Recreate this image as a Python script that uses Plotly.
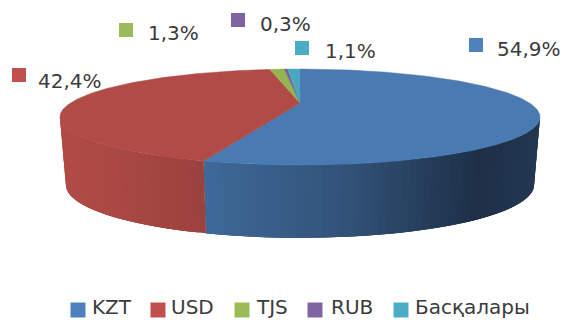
import numpy as np
import plotly.graph_objects as go

categories = ["KZT", "USD", "TJS", "RUB", "Басқалары"]
values = [54.9, 42.4, 1.3, 0.3, 1.1]
top_colors = ["#4A7AB2", "#B04B47", "#94B44F", "#7B5F9C", "#4AA7BF"]
key_colors = ["#4F81BD", "#C0504D", "#9BBB59", "#8064A2", "#4BACC6"]
label_anchor_x = [476, 19, 126, 238, 302]
label_anchor_y = [45, 75, 30, 20, 48]
label_text_x = [497, 38, 148, 260, 325]
label_text_y = [49, 81, 33, 24, 51]
legend_key_x = [78, 158, 242, 315, 401]
legend_text_x = [93, 172, 257, 332, 416]
LEGEND_KEY_Y = 310
LEGEND_TEXT_Y = 307

# perspective geometry of the disc
CX, CY, R, RY, K = 300.0, 103.0, 229.6, 43.9, 0.292
BOTTOM_CY, BOTTOM_SX, BOTTOM_SY = 169.6, 0.975, 1.1
TEXT = "#3B3B3B"
FONT = "DejaVu Sans"

# side shading: (x pixel -> rgb)
side_x = {
    0: ([207, 350, 480, 540], [(62, 105, 152), (50, 82, 120), (30, 48, 72), (36, 56, 82)]),
    1: ([60, 207], [(178, 76, 72), (155, 66, 62)]),
}


def project(deg, cy=CY, sx=1.0, sy=1.0):
    a = np.radians(deg)
    u, v = np.sin(a), -np.cos(a)
    d = 1 - K * v
    return CX + sx * R * u / d, cy + sy * RY * v / d


def shade(i, x):
    xs, cols = side_x[i]
    return "rgb(%d,%d,%d)" % tuple(np.interp(x, xs, [c[j] for c in cols]) for j in range(3))


fracs = np.cumsum([0] + values) / sum(values) * 360
tangent_r = np.degrees(np.arccos(-K))
tangent_l = 360 - tangent_r

fig = go.Figure()


def poly(xs, ys, color, width=0):
    fig.add_trace(go.Scatter(x=xs, y=ys, mode="lines", fill="toself", fillcolor=color,
                             line=dict(color=color, width=width), hoverinfo="skip",
                             showlegend=False))


# sides: each strip runs on under the next one, so no seam shows between them
for i, lo, hi in [(0, tangent_r, fracs[1]), (1, fracs[1], tangent_l)]:
    edges = np.append(np.arange(lo, hi, 1.5), hi)
    for a0, a1 in zip(edges[:-1], edges[1:]):
        arc = np.linspace(a0, min(a1 + 3, hi), 6)
        tx, ty = project(arc)
        bx, by = project(arc[::-1], BOTTOM_CY, BOTTOM_SX, BOTTOM_SY)
        mid = project((a0 + a1) / 2)[0]
        poly(np.r_[tx, bx, tx[0]], np.r_[ty, by, ty[0]], shade(i, mid))

# top face
for i in range(len(values)):
    arc = np.linspace(fracs[i], fracs[i + 1], max(3, int(values[i] * 5)))
    ax, ay = project(arc)
    poly(np.r_[CX, ax, CX], np.r_[CY, ay, CY], top_colors[i], 0.5)

# data-label keys
fig.add_trace(go.Scatter(x=label_anchor_x, y=label_anchor_y, mode="markers",
                         marker=dict(symbol="square", size=14, color=key_colors),
                         hoverinfo="skip", showlegend=False))

# legend keys
fig.add_trace(go.Scatter(x=legend_key_x, y=[LEGEND_KEY_Y] * len(categories), mode="markers",
                         marker=dict(symbol="square", size=15, color=key_colors),
                         hoverinfo="skip", showlegend=False))

annotations = [
    dict(x=x, y=y, text=f"{v:.1f}".replace(".", ",") + "%", showarrow=False,
         xanchor="left", yanchor="middle", xshift=-2,
         font=dict(family=FONT, size=20, color=TEXT))
    for x, y, v in zip(label_text_x, label_text_y, values)
] + [
    dict(x=x, y=LEGEND_TEXT_Y, text=name, showarrow=False, xanchor="left", yanchor="middle",
         xshift=-2, borderpad=0, font=dict(family=FONT, size=20, color=TEXT))
    for x, name in zip(legend_text_x, categories)
]

fig.update_layout(
    width=566, height=320, margin=dict(l=0, r=0, t=0, b=0, autoexpand=False),
    paper_bgcolor="white", plot_bgcolor="white", showlegend=False,
    xaxis=dict(range=[0, 566], visible=False, fixedrange=True),
    yaxis=dict(range=[320, 0], visible=False, fixedrange=True),
    annotations=annotations,
)
fig.write_html("out.html", config={"displayModeBar": False},
               post_script="document.body.style.margin='0';document.documentElement.style.overflow='hidden';")
